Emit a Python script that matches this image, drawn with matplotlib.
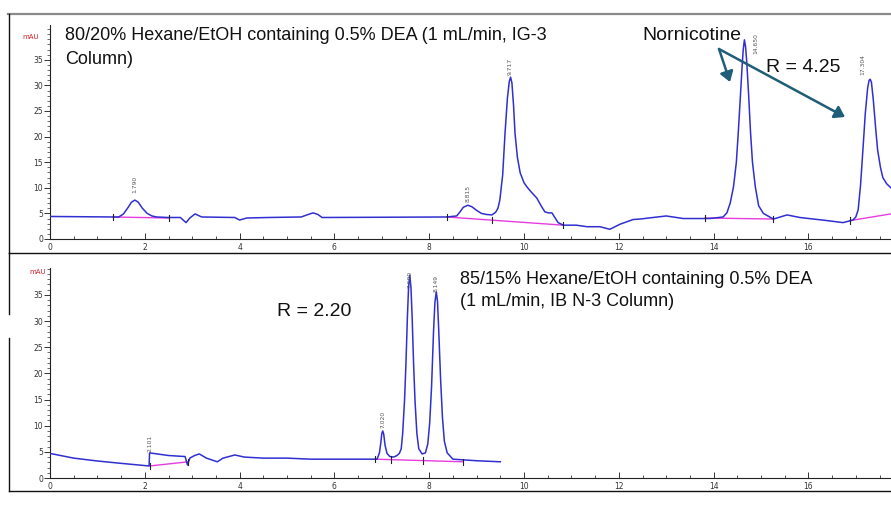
import matplotlib
matplotlib.use("Agg")
import matplotlib.pyplot as plt
from matplotlib.lines import Line2D
from matplotlib.patches import FancyArrowPatch
from matplotlib.ticker import MultipleLocator, FixedLocator

W, H = 891, 507

# ---- Chromatogram 1: 80/20 Hexane/EtOH, IG-3 column (time in min, signal in mAU)
top_t = [0.00, 1.33, 1.45, 1.55, 1.65, 1.72, 1.79, 1.86, 1.95, 2.05, 2.15, 2.25, 2.50,
         2.75, 2.87, 2.95, 3.06, 3.20, 3.90, 4.00, 4.15, 4.60, 5.30, 5.45, 5.55, 5.65,
         5.74, 8.37, 8.58, 8.65, 8.72, 8.815, 8.90, 9.00, 9.10, 9.20, 9.32, 9.40, 9.45,
         9.49, 9.55, 9.60, 9.65, 9.69, 9.717, 9.745, 9.78, 9.81, 9.86, 9.92, 10.00, 10.06,
         10.15, 10.27, 10.36, 10.44, 10.52, 10.59, 10.65, 10.72, 10.83, 11.10, 11.33,
         11.60, 11.81, 12.03, 12.30, 12.45, 13.00, 13.36, 13.92, 14.20, 14.28, 14.35,
         14.42, 14.48, 14.52, 14.56, 14.60, 14.625, 14.65, 14.675, 14.70, 14.74, 14.78,
         14.82, 14.88, 14.95, 15.05, 15.26, 15.55, 15.82, 16.39, 16.73, 16.94, 17.00,
         17.05, 17.10, 17.15, 17.20, 17.25, 17.28, 17.304, 17.33, 17.37, 17.42, 17.46,
         17.52, 17.57, 17.65, 17.74, 17.80]
top_y = [4.4, 4.3, 4.3, 4.9, 6.2, 7.2, 7.6, 7.2, 6.0, 5.0, 4.5, 4.3, 4.2,
         4.2, 3.2, 4.1, 4.9, 4.3, 4.2, 3.7, 4.1, 4.2, 4.3, 4.8, 5.1, 4.8,
         4.2, 4.3, 4.5, 5.3, 6.2, 6.6, 6.3, 5.6, 5.0, 4.8, 4.7, 5.2, 6.0,
         7.6, 12.5, 20.7, 27.5, 30.8, 31.6, 30.5, 26.0, 20.7, 16.0, 12.9, 11.0, 10.2,
         9.2, 8.0, 6.5, 5.3, 5.1, 5.1, 4.2, 3.2, 2.7, 2.7, 2.4,
         2.4, 1.9, 2.9, 3.8, 3.9, 4.5, 4.0, 4.0, 4.3, 5.1, 7.0,
         10.2, 15.0, 20.7, 27.0, 33.5, 37.0, 38.9, 37.5, 34.5, 28.0, 20.7,
         15.0, 10.2, 6.5, 5.0, 3.9, 4.7, 4.2, 3.6, 3.2, 3.7, 4.3,
         5.7, 10.5, 17.4, 24.5, 29.5, 31.0, 31.2, 30.6, 27.1, 21.5, 17.4,
         14.0, 12.0, 10.8, 10.0, 9.5]

# integration baselines (start time, start signal, end time, end signal)
top_base = [(1.33, 4.3, 2.50, 4.1), (8.37, 4.3, 10.83, 2.7),
            (13.82, 4.1, 15.26, 3.9), (16.88, 3.6, 17.74, 4.9)]
top_marks = [1.33, 2.50, 8.37, 9.32, 10.83, 13.82, 15.26, 16.88]

top_peaks = ["1.790", "8.815", "9.717", "14.650", "17.304"]
top_peak_h = [7.6, 6.6, 31.6, 38.9, 31.2]

# ---- Chromatogram 2: 85/15 Hexane/EtOH, IB N-3 column
bot_t = [0.00, 0.50, 1.00, 1.50, 2.09, 2.101, 2.50, 2.85, 2.90, 2.95, 3.05, 3.15, 3.30,
         3.53, 3.65, 3.90, 4.10, 4.50, 5.00, 5.50, 6.50, 6.90, 6.95, 6.98, 7.00, 7.02,
         7.04, 7.07, 7.11, 7.17, 7.25, 7.32, 7.37, 7.41, 7.44, 7.48, 7.51, 7.54, 7.565,
         7.59, 7.615, 7.64, 7.67, 7.70, 7.74, 7.78, 7.85, 7.92, 7.97, 8.01, 8.05, 8.09,
         8.12, 8.149, 8.175, 8.20, 8.24, 8.28, 8.32, 8.38, 8.50, 9.00, 9.50]
bot_y = [4.7, 3.8, 3.25, 2.8, 2.3, 4.8, 4.3, 4.1, 2.5, 3.8, 4.3, 4.6, 3.8,
         3.1, 3.8, 4.4, 4.0, 3.8, 3.8, 3.6, 3.6, 3.6, 4.8, 6.8, 8.5, 9.0,
         8.4, 6.2, 4.7, 4.1, 4.0, 4.3, 4.7, 5.6, 8.5, 14.9, 22.0, 30.8, 36.5,
         38.8, 36.5, 30.8, 22.0, 14.9, 8.5, 5.6, 4.6, 4.8, 6.5, 10.5, 17.5, 27.7,
         33.5, 35.6, 33.8, 28.5, 19.0, 11.5, 7.0, 4.8, 3.6, 3.3, 3.1]

bot_base = [(2.10, 2.3, 2.92, 3.1), (6.86, 3.6, 8.72, 3.1)]
bot_marks = [2.10, 2.92, 6.86, 7.19, 7.86, 8.72]

bot_peaks = ["2.101", "7.020", "7.590", "8.149"]
bot_peak_h = [4.8, 9.0, 38.8, 35.6]

TRACE = "#2f2fd2"
BASE = "#e83ce0"
ARROW = "#1f5d78"


def fpos(x, y):
    return x / W, 1 - y / H


fig = plt.figure(figsize=(W / 100, H / 100), dpi=100)
fig.patch.set_facecolor("white")


def make_axes(top_px, bottom_px, ymax):
    ax = fig.add_axes([50 / W, 1 - bottom_px / H, (W - 50) / W, (bottom_px - top_px) / H])
    ax.set_xlim(0, (W - 50) / 47.4)
    ax.set_ylim(0, ymax)
    for s in ("top", "right"):
        ax.spines[s].set_visible(False)
    for s in ("left", "bottom"):
        ax.spines[s].set_linewidth(0.8)
        ax.spines[s].set_color("#222222")
    ax.xaxis.set_major_locator(MultipleLocator(2))
    ax.xaxis.set_minor_locator(MultipleLocator(0.5))
    ax.yaxis.set_major_locator(FixedLocator([0, 5, 10, 15, 20, 25, 30, 35]))
    ax.yaxis.set_minor_locator(MultipleLocator(1))
    ax.tick_params(axis="x", which="both", direction="in", color="#333333",
                   labelsize=5.5, labelcolor="#333333", pad=3)
    ax.tick_params(axis="x", which="major", length=4, width=0.7)
    ax.tick_params(axis="x", which="minor", length=2.5, width=0.6)
    ax.tick_params(axis="y", which="both", direction="out", color="#333333",
                   labelsize=5.5, labelcolor="#333333", pad=1)
    ax.tick_params(axis="y", which="major", length=4, width=0.7)
    ax.tick_params(axis="y", which="minor", length=2, width=0.5)
    ax.set_facecolor("none")
    return ax


ax1 = make_axes(25, 239, 214 / 5.12)
ax2 = make_axes(268, 478, 210 / 5.23)

for ax, t, y, base, marks in ((ax1, top_t, top_y, top_base, top_marks),
                              (ax2, bot_t, bot_y, bot_base, bot_marks)):
    ax.plot(t, y, color=TRACE, lw=1.1, zorder=3, solid_joinstyle="round")
    for t0, y0, t1, y1 in base:
        ax.plot([t0, t1], [y0, y1], color=BASE, lw=1.0, zorder=2)
    # short ticks where each integrated peak starts and ends
    for m in marks:
        for t0, y0, t1, y1 in base:
            if t0 - 1e-6 <= m <= t1 + 1e-6:
                yy = y0 + (y1 - y0) * (m - t0) / (t1 - t0)
                ax.plot([m, m], [yy - 0.6, yy + 0.6], color="#222222", lw=0.8, zorder=4)
                break

# retention time labels (offsets in points)
top_off = [(0, 5, "bottom"), (0, 2, "bottom"), (0, 1.5, "bottom"), (8, -3, "center"),
           (-5, 3, "bottom")]
for lab, h, (dx, dy, va) in zip(top_peaks, top_peak_h, top_off):
    ax1.annotate(lab, xy=(float(lab), h), xytext=(dx, dy), textcoords="offset points",
                 rotation=90, ha="center", va=va, fontsize=4.3, color="#555555",
                 annotation_clip=False)
bot_off = [(0, 1, "bottom"), (0, 2, "bottom"), (0, -3.5, "center"), (0, 0, "bottom")]
for lab, h, (dx, dy, va) in zip(bot_peaks, bot_peak_h, bot_off):
    ax2.annotate(lab, xy=(float(lab), h), xytext=(dx, dy), textcoords="offset points",
                 rotation=90, ha="center", va=va, fontsize=4.3, color="#555555",
                 annotation_clip=False)

# detector unit labels
fig.text(*fpos(22, 37), "mAU", color="#d0202a", fontsize=5, ha="left", va="center")
fig.text(*fpos(29, 272), "mAU", color="#d0202a", fontsize=5, ha="left", va="center")

FONT = ["Liberation Sans", "DejaVu Sans"]


def note(x, y, s, size=13):
    fig.text(*fpos(x, y), s, fontsize=size, family=FONT, ha="left", va="center",
             color="#111111")


note(65, 35, "80/20% Hexane/EtOH containing 0.5% DEA (1 mL/min, IG-3")
note(65, 60, "Column)")
note(642, 36, "Nornicotine", 14)
note(766, 68, "R = 4.25", 14)
note(277, 311, "R = 2.20", 14)
note(460, 280, "85/15% Hexane/EtOH containing 0.5% DEA")
note(460, 302, "(1 mL/min, IB N-3 Column)")

# arrows pointing at the two enantiomer peaks
for tip in ((730, 82), (845, 117)):
    fig.add_artist(FancyArrowPatch(
        fpos(719, 49), fpos(*tip), transform=fig.transFigure,
        arrowstyle="-|>,head_length=6,head_width=4", color=ARROW, lw=1.8,
        shrinkA=0, shrinkB=0))


# panel frames
def fline(x0, y0, x1, y1, color="#111111", lw=1.0):
    fig.add_artist(Line2D([x0 / W, x1 / W], [1 - y0 / H, 1 - y1 / H],
                          transform=fig.transFigure, color=color, lw=lw))


fline(8, 14, W, 14, color="#8a8a8a", lw=1.6)
fline(9, 14, 9, 253)
fline(9, 253, W, 253)
fline(9, 253, 9, 314)
fline(9, 338, 9, 491)
fline(9, 491, W, 491)

fig.savefig("out.png", dpi=100)
